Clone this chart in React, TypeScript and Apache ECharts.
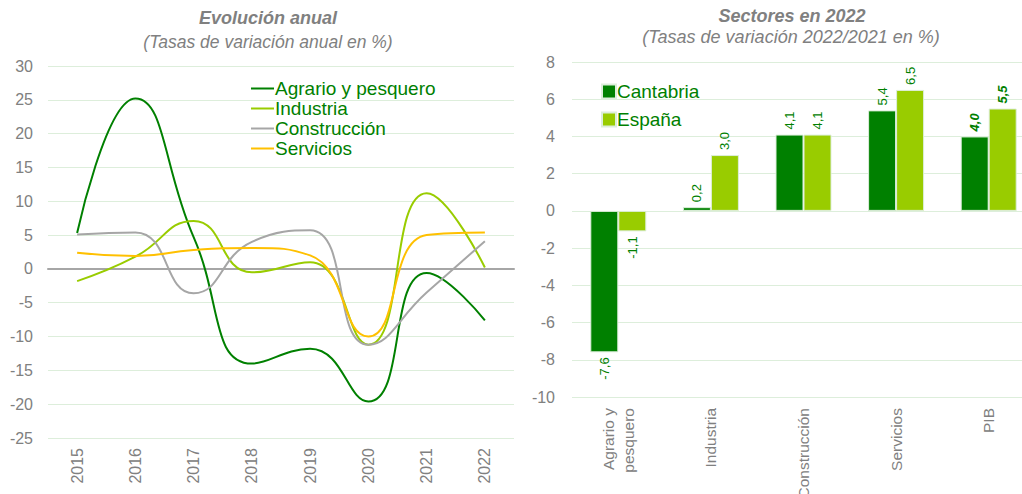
import React, { useEffect, useRef } from "react";
import * as echarts from "echarts";

const years = ["2015", "2016", "2017", "2018", "2019", "2020", "2021", "2022"];
const agrario = [5.3, 25.2, 4.7, -14.0, -11.8, -19.6, -0.6, -7.6];
const industria = [-1.8, 1.8, 7.1, -0.5, 1.0, -11.2, 11.2, 0.2];
const construccion = [5.1, 5.4, -3.6, 4.0, 5.7, -11.2, -3.5, 4.1];
const servicios = [2.4, 1.9, 2.8, 3.1, 2.0, -10.0, 5.0, 5.4];

const sectors = ["Agrario y\npesquero", "Industria", "Construcción", "Servicios", "PIB"];
const cantabria = [-7.6, 0.2, 4.1, 5.4, 4.0];
const espana = [-1.1, 3.0, 4.1, 6.5, 5.5];

const FONT = "'Liberation Sans', Arial, sans-serif";
const GRAY = "#808080";
const GREEN_TXT = "#008000";
const DARK = "#008000";
const LIGHT = "#99CC00";
const GRID_COL = "#DDEEDB";

const fmt = (v: number) => v.toFixed(1).replace(".", ",");

function barData(vals: number[]) {
  return vals.map((v, i) => ({
    value: v,
    label: {
      position: v < 0 ? "bottom" : "top",
      align: v < 0 ? "right" : "left",
      fontWeight: i === vals.length - 1 ? "bold" : "normal",
      fontStyle: i === vals.length - 1 ? "italic" : "normal",
    },
  }));
}

export default function App() {
  const ref = useRef<HTMLDivElement>(null);
  useEffect(() => {
    if (!ref.current) return;
    const chart = echarts.init(ref.current, null, { renderer: "svg" });
    const lineSeries = (name: string, data: number[], color: string) => ({
      name,
      type: "line",
      xAxisIndex: 0,
      yAxisIndex: 0,
      data,
      smooth: 0.5,
      symbol: "none",
      lineStyle: { color, width: 2 },
      itemStyle: { color },
      z: 3,
    });
    const barLabel = {
      show: true,
      rotate: 90,
      verticalAlign: "middle",
      distance: 5,
      color: GREEN_TXT,
      fontSize: 13,
      fontFamily: FONT,
      formatter: (p: any) => fmt(p.value),
    };
    chart.setOption({
      animation: false,
      textStyle: { fontFamily: FONT },
      graphic: [
        { type: "text", x: 268, y: 18, style: { text: "Evolución anual", align: "center", verticalAlign: "middle", fill: GRAY, font: `italic bold 18px ${FONT}` } },
        { type: "text", x: 268, y: 42, style: { text: "(Tasas de variación anual en %)", align: "center", verticalAlign: "middle", fill: GRAY, font: `italic 17.5px ${FONT}` } },
        { type: "text", x: 792, y: 16, style: { text: "Sectores en 2022", align: "center", verticalAlign: "middle", fill: GRAY, font: `italic bold 18px ${FONT}` } },
        { type: "text", x: 791, y: 37, style: { text: "(Tasas de variación 2022/2021 en %)", align: "center", verticalAlign: "middle", fill: GRAY, font: `italic 18px ${FONT}` } },
      ],
      legend: [
        {
          data: ["Agrario y pesquero", "Industria", "Construcción", "Servicios"],
          orient: "vertical",
          left: 246,
          top: 74,
          itemGap: 1,
          itemWidth: 23,
          itemHeight: 2,
          icon: "rect",
          textStyle: { color: GREEN_TXT, fontSize: 19, fontFamily: FONT, padding: [0, 0, 0, -4] },
        },
        {
          data: ["Cantabria", "España"],
          orient: "vertical",
          left: 596,
          top: 77,
          itemGap: 9,
          itemWidth: 14,
          itemHeight: 14,
          icon: "rect",
          textStyle: { color: GREEN_TXT, fontSize: 19, fontFamily: FONT, padding: [0, 0, 0, -4] },
        },
      ],
      grid: [
        { left: 48, right: 508, top: 66, bottom: 56, outerBoundsMode: "none", containLabel: false },
        { left: 572, right: -13, top: 62, bottom: 97, outerBoundsMode: "none", containLabel: false },
      ],
      xAxis: [
        {
          type: "category",
          gridIndex: 0,
          data: years,
          boundaryGap: true,
          axisLine: { show: false, onZero: false },
          axisTick: { show: false },
          axisLabel: { rotate: 90, color: GRAY, fontSize: 16, margin: 10, fontFamily: FONT },
          splitLine: { show: false },
        },
        {
          type: "category",
          gridIndex: 0,
          data: years,
          position: "bottom",
          axisLine: { show: true, onZero: true, lineStyle: { color: "#A6A6A6", width: 2 } },
          axisTick: { show: false },
          axisLabel: { show: false },
          splitLine: { show: false },
        },
        {
          type: "category",
          gridIndex: 1,
          data: sectors,
          axisLine: { show: false, onZero: false },
          axisTick: { show: false },
          axisLabel: { rotate: 90, color: GRAY, fontSize: 15.5, margin: 11, lineHeight: 20, fontFamily: FONT },
          splitLine: { show: false },
        },
      ],
      yAxis: [
        {
          type: "value",
          gridIndex: 0,
          min: -25,
          max: 30,
          interval: 5,
          axisLine: { show: false },
          axisTick: { show: false },
          axisLabel: { color: GRAY, fontSize: 16, margin: 15, fontFamily: FONT },
          splitLine: { show: true, lineStyle: { color: GRID_COL, width: 1 } },
        },
        {
          type: "value",
          gridIndex: 1,
          min: -10,
          max: 8,
          interval: 2,
          axisLine: { show: false },
          axisTick: { show: false },
          axisLabel: { color: GRAY, fontSize: 16, margin: 17, fontFamily: FONT },
          splitLine: { show: true, lineStyle: { color: GRID_COL, width: 1 } },
        },
      ],
      series: [
        lineSeries("Agrario y pesquero", agrario, DARK),
        lineSeries("Industria", industria, LIGHT),
        lineSeries("Construcción", construccion, "#A6A6A6"),
        lineSeries("Servicios", servicios, "#FFC000"),
        {
          name: "Cantabria",
          type: "bar",
          xAxisIndex: 2,
          yAxisIndex: 1,
          data: barData(cantabria),
          barWidth: 28,
          barGap: "0%",
          itemStyle: { color: DARK, borderColor: "#DDEEDB", borderWidth: 1 },
          label: barLabel,
        },
        {
          name: "España",
          type: "bar",
          xAxisIndex: 2,
          yAxisIndex: 1,
          data: barData(espana),
          barWidth: 28,
          barGap: "0%",
          itemStyle: { color: LIGHT, borderColor: "#DDEEDB", borderWidth: 1 },
          label: barLabel,
        },
      ],
    });
    return () => chart.dispose();
  }, []);
  return (
    <div
      ref={ref}
      style={{ position: "fixed", left: 0, top: 0, width: 1022, height: 494, background: "#fff" }}
    />
  );
}
